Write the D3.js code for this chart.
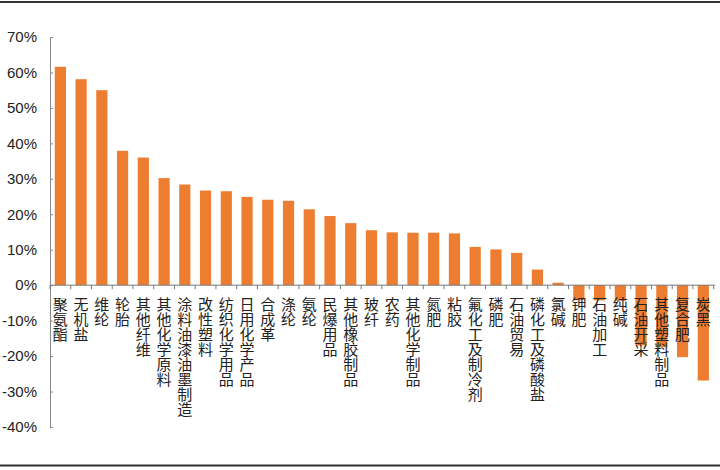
<!DOCTYPE html>
<html>
<head>
<meta charset="utf-8">
<script src="https://cdn.jsdelivr.net/npm/d3@7"></script>
<style>
  body { margin: 0; background: #fff; }
  svg { display: block; }
</style>
</head>
<body>
<div id="chart"></div>
<script>
let width = 720;
let height = 470;

// categories, sorted by value as in the picture
let categories = ['聚氨酯','无机盐','维纶','轮胎','其他纤维','其他化学原料','涂料油漆油墨制造','改性塑料',
  '纺织化学用品','日用化学产品','合成革','涤纶','氨纶','民爆用品','其他橡胶制品','玻纤','农药',
  '其他化学制品','氮肥','粘胶','氟化工及制冷剂','磷肥','石油贸易','磷化工及磷酸盐','氯碱','钾肥',
  '石油加工','纯碱','石油开采','其他塑料制品','复合肥','炭黑'];
let values = [61.6, 58.1, 55.0, 37.9, 36.0, 30.2, 28.4, 26.7, 26.5, 24.9, 24.1, 23.8, 21.4, 19.5, 17.5,
  15.5, 14.9, 14.8, 14.8, 14.6, 10.8, 10.1, 9.1, 4.4, 0.7, -4.2, -4.3, -4.4, -17.0, -17.5, -20.3, -26.9];
let yTicks = [-40, -30, -20, -10, 0, 10, 20, 30, 40, 50, 60, 70];

let svg = d3.select('#chart').append('svg')
            .attr('width', width)
            .attr('height', height);

// frame lines top and bottom
svg.append('line').attr('x1', 0).attr('x2', width).attr('y1', 2).attr('y2', 2)
    .attr('stroke', '#333').attr('stroke-width', 2);
svg.append('line').attr('x1', 0).attr('x2', width).attr('y1', 465.5).attr('y2', 465.5)
    .attr('stroke', '#333').attr('stroke-width', 2);

let x = d3.scaleBand()
          .domain(categories)
          .range([50, 713.7])
          .paddingInner(0.46)
          .paddingOuter(0.23);
let y = d3.scaleLinear()
          .domain([-40, 70])
          .range([427, 37]);

// y axis
let yAxis = svg.append('g')
    .attr('transform', 'translate(50,0)')
    .call(d3.axisRight(y).tickValues(yTicks).tickSize(3).tickFormat(d => d + '%'));
yAxis.select('.domain').attr('stroke', '#888');
yAxis.selectAll('.tick line').attr('stroke', '#888');
yAxis.selectAll('.tick text')
    .attr('x', -13)
    .attr('text-anchor', 'end')
    .attr('fill', '#222')
    .style('font-family', '"Liberation Sans", Arial, sans-serif')
    .style('font-size', '15px');

// bars
svg.append('g')
    .selectAll('rect')
    .data(values)
    .join('rect')
        .attr('x', (d, i) => x(categories[i]))
        .attr('width', x.bandwidth())
        .attr('y', d => y(Math.max(0, d)))
        .attr('height', d => Math.abs(y(d) - y(0)))
        .attr('fill', '#ED7D31');

// x axis at zero, ticks at band edges pointing down
let edges = categories.map(c => x(c) - x.step() * x.paddingInner() / 2);
edges.push(713.7);
let zero = svg.append('g');
zero.append('line')
    .attr('x1', 50).attr('x2', 715)
    .attr('y1', y(0)).attr('y2', y(0))
    .attr('stroke', '#777').attr('stroke-width', 1);
zero.selectAll('.xt')
    .data(edges)
    .join('line')
        .attr('class', 'xt')
        .attr('x1', d => d).attr('x2', d => d)
        .attr('y1', y(0)).attr('y2', y(0) + 4)
        .attr('stroke', '#777');

// vertical category labels, written top to bottom
svg.append('g')
    .style('font-family', '"Noto Sans CJK SC", sans-serif')
    .style('font-size', '15px')
    .attr('fill', '#222')
  .selectAll('text')
  .data(categories)
  .join('text')
    .attr('x', c => x(c) + x.bandwidth() / 2)
    .attr('y', 297)
    .style('writing-mode', 'vertical-rl')
    .style('text-orientation', 'upright')
    .text(c => c);
</script>
</body>
</html>
